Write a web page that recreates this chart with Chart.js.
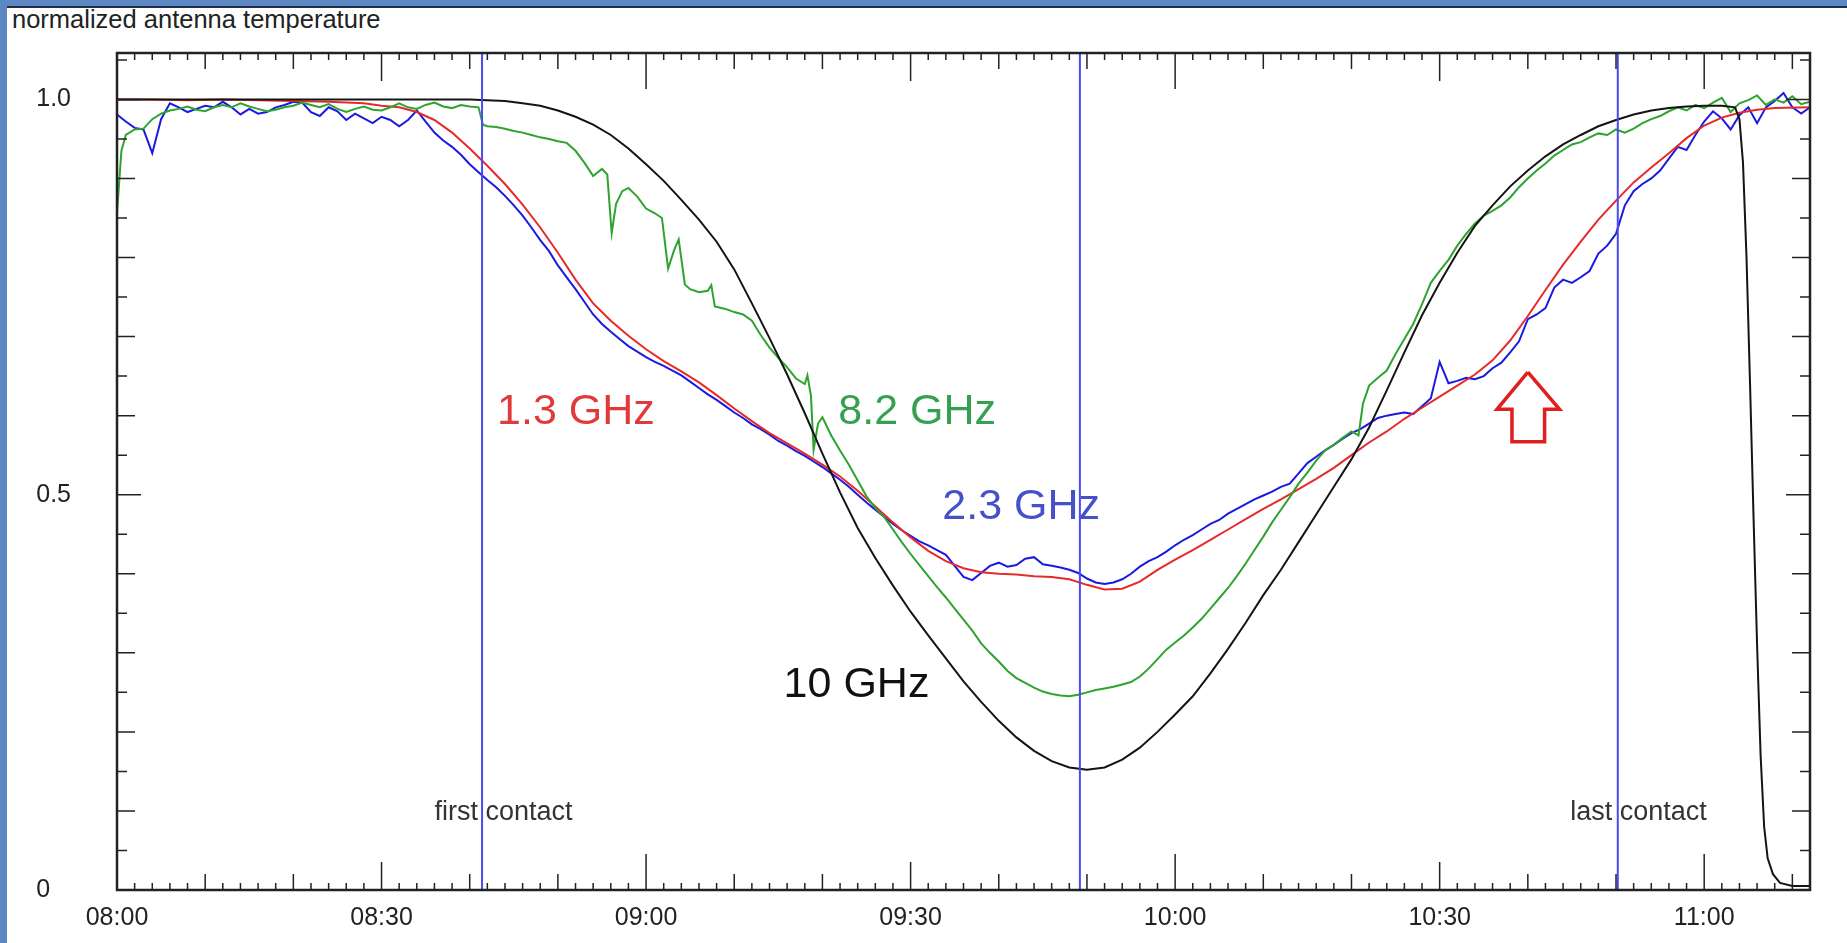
<!DOCTYPE html>
<html>
<head>
<meta charset="utf-8">
<script src="https://cdn.jsdelivr.net/npm/chart.js@4/dist/chart.umd.min.js"></script>
<style>
html, body { margin: 0; padding: 0; background: #fff; overflow: hidden; }
#wrap { position: relative; width: 1847px; height: 943px; background: #fff; }
#topband { position: absolute; left: 0; top: 0; width: 1847px; height: 6px; background: #5b87c3; border-bottom: 2px solid #1f2f4a; }
#leftband { position: absolute; left: 0; top: 0; width: 7px; height: 943px; background: #5b87c3; }
#title { position: absolute; left: 12px; top: 5px; font: 25.5px 'Liberation Sans', Arial, sans-serif; color: #222; }
canvas { position: absolute; left: 0; top: 0; }
</style>
</head>
<body>
<div id="wrap">
  <div id="topband"></div>
  <div id="leftband"></div>
  <div id="title">normalized antenna temperature</div>
  <canvas id="chart" width="1847" height="943"></canvas>
</div>
<script>
// time axis = minutes after 08:00
var xTicks = [0, 30, 60, 90, 120, 150, 180];
var yTicks = [0, 0.5, 1.0];
var contactTimes = [41.4, 109.2, 170.2];

// 10 GHz
var blackT = [0,10,20,30,40,42,44,46,48,50,52,54,56,58,60,62,64,66,68,70,72,74,76,78,80,82,84,86,88,90,92,94,96,98,100,102,104,106,108,110,112,114,116,118,120,122,124,126,128,130,132,134,136,138,140,142,144,146,148,150,152,154,156,158,160,162,164,166,168,170,172,174,176,178,180,182,183.5,184,184.4,184.8,185.2,185.6,186,186.4,186.8,187.2,187.8,188.6,190,192];
var blackV = [1.0,1.0,1.0,1.0,1.0,0.999,0.998,0.995,0.992,0.986,0.978,0.968,0.955,0.938,0.918,0.897,0.873,0.848,0.82,0.785,0.742,0.698,0.652,0.603,0.552,0.503,0.458,0.42,0.385,0.352,0.322,0.293,0.264,0.238,0.214,0.193,0.176,0.163,0.155,0.152,0.155,0.165,0.18,0.2,0.222,0.245,0.274,0.305,0.338,0.373,0.405,0.44,0.475,0.51,0.545,0.585,0.632,0.68,0.727,0.768,0.806,0.84,0.866,0.89,0.91,0.928,0.943,0.955,0.966,0.974,0.981,0.986,0.989,0.991,0.992,0.992,0.99,0.975,0.92,0.8,0.64,0.47,0.31,0.17,0.08,0.04,0.02,0.009,0.005,0.005];

// 1.3 GHz
var redT = [0,4,8,12,16,20,24,28,30,32,34,36,38,40,42,44,46,48,50,52,54,56,58,60,62,64,66,68,70,72,74,76,78,80,82,84,86,88,90,92,94,96,98,100,102,104,106,108,110,112,114,116,118,120,122,124,126,128,130,132,134,136,138,140,142,144,146,148,150,152,154,156,158,160,162,164,166,168,170,172,174,176,178,180,182,184,186,188,192];
var redV = [1.0,1.0,0.999,1.0,0.999,0.998,0.997,0.995,0.992,0.99,0.984,0.974,0.958,0.938,0.916,0.893,0.867,0.838,0.806,0.772,0.742,0.72,0.701,0.684,0.669,0.656,0.642,0.626,0.609,0.593,0.578,0.565,0.552,0.538,0.523,0.505,0.485,0.465,0.446,0.429,0.416,0.407,0.402,0.4,0.399,0.397,0.396,0.393,0.386,0.38,0.381,0.39,0.405,0.418,0.43,0.443,0.456,0.469,0.482,0.494,0.507,0.52,0.534,0.55,0.566,0.58,0.596,0.61,0.624,0.638,0.652,0.67,0.695,0.726,0.759,0.791,0.82,0.848,0.872,0.895,0.914,0.932,0.951,0.967,0.977,0.983,0.987,0.989,0.99];

// 2.3 GHz
var blueT = [0,1,2,3,4,5,6,7,8,9,10,11,12,13,14,15,16,17,18,19,20,21,22,23,24,25,26,27,28,29,30,31,32,33,34,35,36,37,38,39,40,41,42,43,44,45,46,47,48,49,50,51,52,53,54,55,56,57,58,59,60,61,62,63,64,65,66,67,68,69,70,71,72,73,74,75,76,77,78,79,80,81,82,83,84,85,86,87,88,89,90,91,92,93,94,95,96,97,98,99,100,101,102,103,104,105,106,107,108,109,110,111,112,113,114,115,116,117,118,119,120,121,122,123,124,125,126,127,128,129,130,131,132,133,134,135,136,137,138,139,140,141,142,143,144,145,146,147,148,149,150,151,152,153,154,155,156,157,158,159,160,161,162,163,164,165,166,167,168,169,170,171,172,173,174,175,176,177,178,179,180,181,182,183,184,185,186,187,188,189,190,191,192];
var blueV = [0.981,0.972,0.964,0.962,0.932,0.975,0.995,0.99,0.984,0.988,0.992,0.99,0.997,0.99,0.981,0.988,0.982,0.984,0.99,0.993,0.997,0.996,0.984,0.979,0.99,0.985,0.974,0.982,0.976,0.97,0.978,0.974,0.966,0.974,0.986,0.972,0.958,0.948,0.94,0.93,0.918,0.908,0.898,0.889,0.878,0.866,0.853,0.838,0.822,0.808,0.79,0.775,0.76,0.744,0.728,0.716,0.706,0.697,0.688,0.681,0.674,0.668,0.663,0.657,0.651,0.643,0.635,0.627,0.62,0.612,0.604,0.597,0.589,0.583,0.576,0.568,0.562,0.555,0.549,0.542,0.535,0.527,0.519,0.51,0.5,0.49,0.481,0.472,0.463,0.455,0.448,0.441,0.436,0.43,0.424,0.41,0.396,0.392,0.401,0.41,0.414,0.409,0.411,0.419,0.421,0.412,0.41,0.408,0.405,0.401,0.394,0.389,0.387,0.389,0.393,0.4,0.409,0.416,0.421,0.428,0.436,0.443,0.449,0.456,0.463,0.468,0.476,0.482,0.488,0.494,0.499,0.504,0.51,0.514,0.527,0.54,0.548,0.556,0.563,0.571,0.578,0.583,0.59,0.597,0.6,0.602,0.604,0.602,0.612,0.622,0.668,0.641,0.644,0.648,0.646,0.65,0.66,0.667,0.68,0.694,0.722,0.728,0.736,0.762,0.772,0.768,0.775,0.783,0.805,0.815,0.83,0.866,0.884,0.893,0.9,0.91,0.925,0.94,0.936,0.955,0.972,0.985,0.976,0.962,0.98,0.99,0.97,0.99,0.998,1.008,0.99,0.982,0.99];

// 8.2 GHz
var greenT = [0,0.5,1,2,3,4,5,6,7,8,9,10,11,12,13,14,15,16,17,18,19,20,21,22,23,24,25,26,27,28,29,30,31,32,33,34,35,36,37,38,39,40,41,41.5,42,43,44,45,46,47,48,49,50,51,52,53,54,55,55.6,56.1,56.6,57.3,58,59,60,61,61.8,62.5,63.2,63.7,64.4,65,66,67,67.4,67.8,69,70,71,72,73,74,75,76,77,78,78.3,78.7,79,79.5,80,81,82,83,84,85,86,87,88,89,90,91,92,93,94,95,96,97,98,99,100,101,102,103,104,105,106,107,108,109,110,111,112,113,114,115,116,117,118,119,120,121,122,123,124,125,126,127,128,129,130,131,132,133,134,135,136,137,138,139,140,140.8,141.3,142,143,144,145,146,147,148,149,150,151,152,153,154,155,156,157,158,159,160,161,162,163,164,165,166,167,168,169,170,171,172,173,174,175,176,177,178,179,180,181,182,183,184,185,186,187,188,189,190,191,192];
var greenV = [0.856,0.935,0.955,0.962,0.963,0.975,0.982,0.986,0.988,0.991,0.987,0.985,0.99,0.993,0.99,0.995,0.991,0.988,0.985,0.987,0.99,0.992,0.996,0.993,0.99,0.994,0.988,0.984,0.988,0.991,0.987,0.986,0.99,0.995,0.99,0.988,0.993,0.996,0.991,0.989,0.993,0.991,0.99,0.968,0.966,0.965,0.963,0.96,0.958,0.955,0.952,0.95,0.947,0.945,0.935,0.92,0.903,0.912,0.905,0.831,0.868,0.884,0.888,0.877,0.862,0.856,0.85,0.786,0.81,0.823,0.766,0.76,0.756,0.758,0.765,0.738,0.735,0.731,0.728,0.72,0.702,0.686,0.673,0.661,0.647,0.64,0.651,0.625,0.557,0.59,0.598,0.575,0.556,0.538,0.518,0.498,0.483,0.472,0.456,0.44,0.425,0.411,0.397,0.383,0.37,0.356,0.342,0.328,0.312,0.3,0.289,0.277,0.268,0.262,0.256,0.251,0.248,0.246,0.245,0.247,0.25,0.253,0.255,0.257,0.26,0.263,0.27,0.28,0.292,0.304,0.313,0.322,0.332,0.343,0.356,0.369,0.382,0.397,0.413,0.43,0.447,0.465,0.481,0.497,0.514,0.528,0.543,0.556,0.563,0.572,0.58,0.575,0.615,0.638,0.648,0.657,0.678,0.697,0.716,0.741,0.768,0.783,0.797,0.815,0.83,0.843,0.853,0.859,0.866,0.876,0.889,0.9,0.91,0.919,0.929,0.936,0.943,0.946,0.952,0.957,0.955,0.962,0.958,0.963,0.97,0.975,0.979,0.985,0.99,0.986,0.993,0.989,0.996,1.002,0.984,0.995,0.999,1.005,0.993,1.0,0.996,1.004,0.994,0.997];

// hollow up-arrow marker
var arrowT = [160.0,163.6,161.9,161.9,158.2,158.2,156.5,160.0];
var arrowV = [0.655,0.608,0.608,0.567,0.567,0.608,0.608,0.655];

// text annotations: [text, t, v, size, colour]
var notes = [
  ['1.3 GHz', 43.1, 0.589, 43, '#e03a3a'],
  ['8.2 GHz', 81.8, 0.589, 43, '#35a150'],
  ['2.3 GHz', 93.6, 0.469, 43, '#4650c8'],
  ['10 GHz', 75.6, 0.244, 43, '#111111'],
  ['first contact', 36.0, 0.089, 27, '#333333'],
  ['last contact', 164.8, 0.089, 27, '#333333']
];

function pts(ts, vs) {
  return ts.map(function (t, i) { return { x: t, y: vs[i] }; });
}
function pad(n) { return (n < 10 ? '0' : '') + n; }

var FONT = "'Liberation Sans', Arial, sans-serif";

var framePlugin = {
  id: 'frame',
  afterDatasetsDraw: function (chart) {
    var ctx = chart.ctx, a = chart.chartArea, x = chart.scales.x, y = chart.scales.y;
    ctx.save();

    // contact lines
    ctx.strokeStyle = '#4a4aee';
    ctx.lineWidth = 2;
    contactTimes.forEach(function (t) {
      var px = x.getPixelForValue(t);
      ctx.beginPath(); ctx.moveTo(px, a.top); ctx.lineTo(px, a.bottom); ctx.stroke();
    });

    // inward ticks
    ctx.strokeStyle = '#222';
    ctx.lineWidth = 1.5;
    for (var m = 0; m <= 192; m += 2) {
      var len = m % 60 === 0 ? 36 : m % 30 === 0 ? 28 : m % 10 === 0 ? 16 : 7;
      var px = x.getPixelForValue(m);
      ctx.beginPath();
      ctx.moveTo(px, a.bottom); ctx.lineTo(px, a.bottom - len);
      ctx.moveTo(px, a.top); ctx.lineTo(px, a.top + len);
      ctx.stroke();
    }
    for (var k = 0; k <= 21; k++) {
      var ylen = k % 10 === 0 ? 24 : k % 2 === 0 ? 18 : 10;
      var py = y.getPixelForValue(k * 0.05);
      ctx.beginPath();
      ctx.moveTo(a.left, py); ctx.lineTo(a.left + ylen, py);
      ctx.moveTo(a.right, py); ctx.lineTo(a.right - ylen, py);
      ctx.stroke();
    }

    // box
    ctx.lineWidth = 2.5;
    ctx.strokeRect(a.left, a.top, a.right - a.left, a.bottom - a.top);

    // labels
    ctx.textBaseline = 'alphabetic';
    ctx.textAlign = 'left';
    notes.forEach(function (n) {
      ctx.font = n[3] + 'px ' + FONT;
      ctx.fillStyle = n[4];
      ctx.fillText(n[0], x.getPixelForValue(n[1]), y.getPixelForValue(n[2]));
    });
    ctx.restore();
  }
};

function line(data, color, w) {
  return { data: data, borderColor: color, borderWidth: w, showLine: true, pointRadius: 0, tension: 0, fill: false };
}

new Chart(document.getElementById('chart'), {
  type: 'scatter',
  data: {
    datasets: [
      line(pts(blackT, blackV), '#141414', 2),
      line(pts(greenT, greenV), '#2ea32e', 2),
      line(pts(redT, redV), '#e62a2a', 2),
      line(pts(blueT, blueV), '#1a1ae0', 2),
      line(pts(arrowT, arrowV), '#e02020', 3.5)
    ]
  },
  options: {
    responsive: false,
    animation: false,
    devicePixelRatio: 1,
    layout: { padding: { top: 51, right: 37, left: 0, bottom: 0 } },
    plugins: { legend: { display: false }, tooltip: { enabled: false } },
    scales: {
      x: {
        type: 'linear', min: 0, max: 192,
        grid: { display: false }, border: { display: false },
        afterFit: function (s) { s.height = 44; },
        afterBuildTicks: function (s) { s.ticks = xTicks.map(function (v) { return { value: v }; }); },
        ticks: {
          padding: 5, color: '#222', font: { size: 25, family: FONT }, maxRotation: 0,
          callback: function (v) { return pad(8 + Math.floor(v / 60)) + ':' + pad(v % 60); }
        }
      },
      y: {
        type: 'linear', min: 0, max: 1.0587,
        grid: { display: false }, border: { display: false },
        afterFit: function (s) { s.width = 117; },
        afterBuildTicks: function (s) { s.ticks = yTicks.map(function (v) { return { value: v }; }); },
        ticks: {
          padding: 38, color: '#222', font: { size: 25, family: FONT },
          callback: function (v) { return v === 0 ? '0   ' : v.toFixed(1); }
        }
      }
    }
  },
  plugins: [framePlugin]
});
</script>
</body>
</html>
